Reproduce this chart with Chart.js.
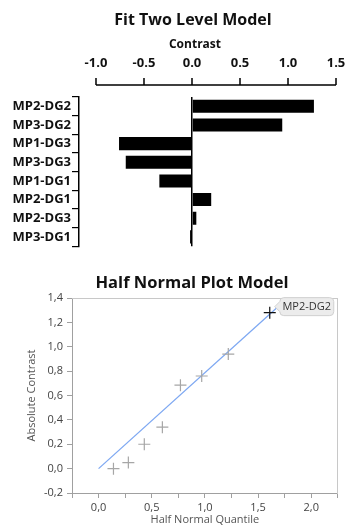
<!DOCTYPE html>
<html>
<head>
<meta charset="utf-8">
<script src="https://cdn.jsdelivr.net/npm/chart.js@4"></script>
<style>
    html, body { margin: 0; padding: 0; background: #fff; overflow: hidden; }
    body { width: 345px; height: 528px; position: relative; }
    .title { position: absolute; left: 0; width: 386px; text-align: center; font-family: 'Open Sans', sans-serif; font-weight: bold; color: #111; }
    #topChart { position: absolute; left: 0; top: 0; }
    #bottomChart { position: absolute; left: 0; top: 262px; }
</style>
</head>
<body>
<canvas id="topChart" width="345" height="255"></canvas>
<canvas id="bottomChart" width="345" height="266"></canvas>
<div class="title" style="top: 8px; font-size: 16px;">Fit Two Level Model</div>
<div class="title" style="top: 35px; font-size: 12px; width: 390px;">Contrast</div>
<div class="title" style="top: 270px; font-size: 16.5px; width: 384px;">Half Normal Plot Model</div>
<script>
// Data
const effects = ['MP2-DG2', 'MP3-DG2', 'MP1-DG3', 'MP3-DG3', 'MP1-DG1', 'MP2-DG1', 'MP2-DG3', 'MP3-DG1'];
const contrasts = [1.27, 0.94, -0.76, -0.69, -0.34, 0.20, 0.045, -0.02];
const contrastTicks = [-1.0, -0.5, 0.0, 0.5, 1.0, 1.5];

const quantiles = [0.14, 0.28, 0.43, 0.60, 0.77, 0.97, 1.22, 1.61];
const absContrasts = [0.0, 0.05, 0.20, 0.34, 0.685, 0.76, 0.94, 1.28];
const labeledEffect = 'MP2-DG2';
const fitLineX = [0, 1.69];
const fitLineY = [0, 1.33];

// Top axis line + tick marks, drawn from the x scale
const topAxisPlugin = {
    id: 'topAxis',
    afterDraw(chart) {
        const ctx = chart.ctx;
        const x = chart.scales.x;
        const y = chart.chartArea.top - 12;
        ctx.save();
        ctx.strokeStyle = '#000';
        ctx.lineWidth = 1.5;
        ctx.beginPath();
        ctx.moveTo(x.getPixelForValue(contrastTicks[0]), y);
        ctx.lineTo(x.getPixelForValue(contrastTicks[contrastTicks.length - 1]), y);
        contrastTicks.forEach(v => {
            const px = x.getPixelForValue(v);
            ctx.moveTo(px, y);
            ctx.lineTo(px, y - 7);
        });
        ctx.stroke();
        ctx.restore();
    }
};

const topChart = new Chart(document.getElementById('topChart').getContext('2d'), {
    type: 'bar',
    data: {
        labels: effects,
        datasets: [{
            label: 'Contrast',
            data: contrasts,
            backgroundColor: '#000',
            borderColor: '#000',
            borderWidth: 0,
            barPercentage: 0.7,
            categoryPercentage: 1.0
        }]
    },
    options: {
        indexAxis: 'y',
        responsive: false,
        animation: false,
        layout: { padding: { left: 0, right: 4, top: 0, bottom: 8 } },
        plugins: {
            legend: { display: false },
            tooltip: { enabled: false }
        },
        scales: {
            x: {
                position: 'top',
                min: -1.177,
                max: 1.552,
                afterBuildTicks: (scale) => {
                    scale.ticks = contrastTicks.map(v => ({ value: v }));
                },
                afterFit: (scale) => {
                    scale.height = 97;
                    scale.paddingLeft = 0;
                    scale.paddingRight = 0;
                },
                border: { display: false },
                grid: {
                    drawTicks: false,
                    lineWidth: 1.5,
                    color: (c) => (c.tick && c.tick.value === 0) ? '#000' : 'rgba(0,0,0,0)'
                },
                ticks: {
                    padding: 26,
                    maxRotation: 0,
                    color: '#111',
                    font: { family: 'Open Sans', size: 13, weight: 'bold' },
                    callback: (v) => Number(v).toFixed(1)
                }
            },
            y: {
                afterFit: (scale) => { scale.width = 79; },
                border: { display: true, color: '#000', width: 1.5 },
                grid: { drawOnChartArea: false, tickLength: 7, color: '#000', lineWidth: 1.2 },
                ticks: {
                    padding: 1,
                    color: '#111',
                    font: { family: 'Open Sans', size: 13, weight: 'bold' }
                }
            }
        }
    },
    plugins: [topAxisPlugin]
});

// Label callout for the largest effect
const calloutPlugin = {
    id: 'callout',
    afterDatasetsDraw(chart) {
        const ctx = chart.ctx;
        const idx = absContrasts.length - 1;
        const px = chart.scales.x.getPixelForValue(quantiles[idx]);
        const py = chart.scales.y.getPixelForValue(absContrasts[idx]);
        const bx = px + 10, by = py - 15, bw = 54, bh = 18;
        ctx.save();
        ctx.fillStyle = '#ececec';
        ctx.strokeStyle = '#d0d0d0';
        ctx.lineWidth = 1;
        ctx.beginPath();
        ctx.moveTo(bx + 4, by);
        ctx.lineTo(bx + bw - 4, by);
        ctx.quadraticCurveTo(bx + bw, by, bx + bw, by + 4);
        ctx.lineTo(bx + bw, by + bh - 4);
        ctx.quadraticCurveTo(bx + bw, by + bh, bx + bw - 4, by + bh);
        ctx.lineTo(bx + 4, by + bh);
        ctx.quadraticCurveTo(bx, by + bh, bx, by + bh - 4);
        ctx.lineTo(bx - 5, by + 9);
        ctx.lineTo(bx, by + 4);
        ctx.quadraticCurveTo(bx, by, bx + 4, by);
        ctx.closePath();
        ctx.fill();
        ctx.stroke();
        ctx.fillStyle = '#333';
        ctx.font = '11px "Open Sans", sans-serif';
        ctx.textAlign = 'center';
        ctx.textBaseline = 'middle';
        ctx.fillText(labeledEffect, bx + bw / 2, by + bh / 2 + 0.5);
        ctx.restore();
    }
};

const axisFont = { family: 'Open Sans', size: 11 };
const commaFmt = (v) => {
    const n = Math.abs(v) < 1e-9 ? 0 : Number(v);
    return n.toFixed(1).replace('.', ',');
};

const bottomChart = new Chart(document.getElementById('bottomChart').getContext('2d'), {
    type: 'scatter',
    data: {
        datasets: [
            {
                type: 'line',
                label: 'Fit',
                data: fitLineX.map((x, i) => ({ x: x, y: fitLineY[i] })),
                borderColor: '#7ea8f2',
                borderWidth: 1.3,
                pointRadius: 0,
                order: 2
            },
            {
                label: 'Effects',
                data: quantiles.map((q, i) => ({ x: q, y: absContrasts[i] })),
                pointStyle: 'cross',
                pointRadius: 6,
                pointBorderWidth: 1.2,
                pointBorderColor: absContrasts.map((v, i) => i === absContrasts.length - 1 ? '#111' : '#a6a6a6'),
                order: 1
            }
        ]
    },
    options: {
        responsive: false,
        animation: false,
        layout: { padding: 0 },
        plugins: {
            legend: { display: false },
            tooltip: { enabled: false }
        },
        scales: {
            x: {
                type: 'linear',
                min: -0.25,
                max: 2.25,
                afterFit: (scale) => { scale.height = 35; },
                border: { color: '#a0a0a0' },
                grid: { drawOnChartArea: false, tickLength: 5, color: '#a0a0a0' },
                ticks: {
                    stepSize: 0.25,
                    padding: 3,
                    maxRotation: 0,
                    autoSkip: false,
                    color: '#444',
                    font: axisFont,
                    callback: (v) => (Math.abs(v * 2 - Math.round(v * 2)) < 1e-6 ? commaFmt(v) : '')
                },
                title: {
                    display: true,
                    text: 'Half Normal Quantile',
                    color: '#555',
                    font: axisFont,
                    padding: { top: 0, bottom: 2 }
                }
            },
            y: {
                min: -0.2,
                max: 1.4,
                afterFit: (scale) => { scale.width = 72; },
                border: { color: '#a0a0a0' },
                grid: { drawOnChartArea: false, tickLength: 5, color: '#a0a0a0' },
                ticks: {
                    stepSize: 0.2,
                    padding: 4,
                    color: '#444',
                    font: axisFont,
                    callback: (v) => commaFmt(v)
                },
                title: {
                    display: true,
                    text: 'Absolute Contrast',
                    color: '#555',
                    font: axisFont,
                    padding: { top: 25, bottom: 0 }
                }
            },
            x2: {
                position: 'top',
                min: -0.25,
                max: 2.25,
                afterFit: (scale) => { scale.height = 36; },
                border: { color: '#c8c8c8' },
                grid: { display: false },
                ticks: { display: false }
            },
            y2: {
                position: 'right',
                min: -0.2,
                max: 1.4,
                afterFit: (scale) => { scale.width = 4; },
                border: { color: '#c8c8c8' },
                grid: { display: false },
                ticks: { display: false }
            }
        }
    },
    plugins: [calloutPlugin]
});
</script>
</body>
</html>
